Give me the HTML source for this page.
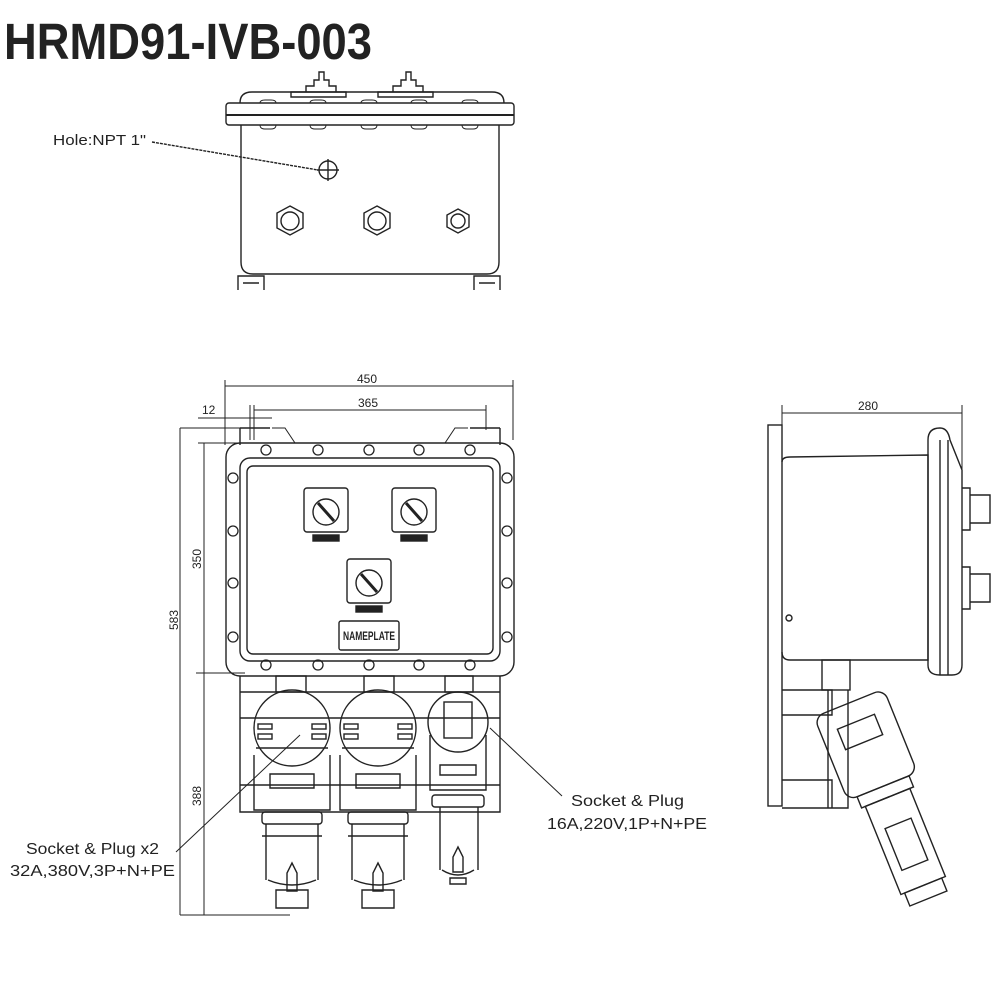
<!DOCTYPE html>
<html><head><meta charset="utf-8"><style>
html,body{margin:0;padding:0;background:#fff;width:1000px;height:1000px;overflow:hidden}
svg{display:block}
text{font-family:"Liberation Sans",sans-serif;fill:#222}
</style></head><body>
<svg width="1000" height="1000" viewBox="0 0 1000 1000" xmlns="http://www.w3.org/2000/svg">
<g fill="none" stroke="#222" stroke-width="1.4">
<text x="4" y="59" font-size="51" font-weight="bold" textLength="368" lengthAdjust="spacingAndGlyphs" stroke="none">HRMD91-IVB-003</text>

<!-- TOP VIEW -->
<text x="53" y="145" font-size="15" stroke="none" textLength="93" lengthAdjust="spacingAndGlyphs">Hole:NPT 1"</text>
<line x1="152" y1="142" x2="318" y2="170" stroke-dasharray="3,1"/>
<path d="M306 92 v-6 h8 v-6 h5 v-8 h5 v8 h5 v6 h7 v6 z M291 92 h55 v5 h-55z"/>
<path d="M393 92 v-6 h8 v-6 h5 v-8 h5 v8 h5 v6 h7 v6 z M378 92 h55 v5 h-55z"/>
<path d="M240 103 q0-11 12-11 h240 q12 0 12 11"/>
<rect x="226" y="103" width="288" height="22" rx="3"/>
<line x1="226" y1="115" x2="514" y2="115" stroke-width="2"/>
<g stroke-width="1">
<path d="M260 103 q0-3 5-3 h6 q5 0 5 3 M310 103 q0-3 5-3 h6 q5 0 5 3 M361 103 q0-3 5-3 h6 q5 0 5 3 M411 103 q0-3 5-3 h6 q5 0 5 3 M462 103 q0-3 5-3 h6 q5 0 5 3"/>
<path d="M260 125 q0 4 5 4 h6 q5 0 5-4 M310 125 q0 4 5 4 h6 q5 0 5-4 M361 125 q0 4 5 4 h6 q5 0 5-4 M411 125 q0 4 5 4 h6 q5 0 5-4 M462 125 q0 4 5 4 h6 q5 0 5-4"/>
</g>
<path d="M241 125 V262 q0 12 12 12 h234 q12 0 12-12 V125"/>
<path d="M238 290 v-14 h26 v14 M243 283 h16 M474 290 v-14 h26 v14 M479 283 h16"/>
<circle cx="328" cy="170" r="9"/><path d="M317 170 h22 M328 159 v22"/>
<polygon points="290,206 303,213 303,228 290,235 277,228 277,213"/><circle cx="290" cy="221" r="9"/>
<polygon points="377,206 390,213 390,228 377,235 364,228 364,213"/><circle cx="377" cy="221" r="9"/>
<polygon points="458,209 469,215 469,227 458,233 447,227 447,215"/><circle cx="458" cy="221" r="7"/>

<!-- FRONT VIEW dims -->
<text x="357" y="383" font-size="12" stroke="none">450</text>
<path d="M225 386 H513 M225 380 V445 M513 380 V440" stroke-width="1"/>
<text x="358" y="407" font-size="12" stroke="none">365</text>
<path d="M254 410 H486 M486 405 V430 M254 405 V440 M250 405 V440" stroke-width="1"/>
<text x="202" y="414" font-size="12" stroke="none">12</text>
<path d="M198 418 H272 M198 443 H240" stroke-width="1"/>
<path d="M180 428 H240 M180 428 V915 M180 915 H290 M204 443 V915 M196 673 H245" stroke-width="1"/>
<text transform="translate(201,569) rotate(-90)" font-size="12" stroke="none">350</text>
<text transform="translate(178,630) rotate(-90)" font-size="12" stroke="none">583</text>
<text transform="translate(201,806) rotate(-90)" font-size="12" stroke="none">388</text>

<!-- enclosure -->
<path d="M240 428 V445 M500 428 V445 M240 428 h30 M470 428 h30"/>
<path d="M272 428 h13 l10 15 h150 l10-15 h13" stroke-width="1"/>
<rect x="226" y="443" width="288" height="233" rx="14"/>
<rect x="240" y="458" width="260" height="203" rx="10"/>
<rect x="247" y="466" width="246" height="188" rx="6"/>
<g stroke-width="1.3">
<circle cx="266" cy="450" r="5"/><circle cx="318" cy="450" r="5"/><circle cx="369" cy="450" r="5"/><circle cx="419" cy="450" r="5"/><circle cx="470" cy="450" r="5"/>
<circle cx="266" cy="665" r="5"/><circle cx="318" cy="665" r="5"/><circle cx="369" cy="665" r="5"/><circle cx="419" cy="665" r="5"/><circle cx="470" cy="665" r="5"/>
<circle cx="233" cy="478" r="5"/><circle cx="233" cy="531" r="5"/><circle cx="233" cy="583" r="5"/><circle cx="233" cy="637" r="5"/>
<circle cx="507" cy="478" r="5"/><circle cx="507" cy="531" r="5"/><circle cx="507" cy="583" r="5"/><circle cx="507" cy="637" r="5"/>
</g>
<g>
<rect x="304" y="488" width="44" height="44" rx="3"/><circle cx="326" cy="512" r="13"/><line x1="318" y1="503" x2="334" y2="521" stroke-width="3"/><rect x="313" y="535" width="26" height="6" fill="#222"/>
<rect x="392" y="488" width="44" height="44" rx="3"/><circle cx="414" cy="512" r="13"/><line x1="406" y1="503" x2="422" y2="521" stroke-width="3"/><rect x="401" y="535" width="26" height="6" fill="#222"/>
<rect x="347" y="559" width="44" height="44" rx="3"/><circle cx="369" cy="583" r="13"/><line x1="361" y1="574" x2="377" y2="592" stroke-width="3"/><rect x="356" y="606" width="26" height="6" fill="#222"/>
<rect x="339" y="621" width="60" height="29" rx="2"/>
<text x="343" y="640" font-size="12" font-weight="bold" stroke="none" textLength="52" lengthAdjust="spacingAndGlyphs">NAMEPLATE</text>
</g>
<!-- back plate -->
<path d="M240 676 V812 H500 V676 M240 692 H500 M240 718 H500 M240 785 H500"/>
<!-- glands -->
<rect x="276" y="676" width="30" height="16"/><rect x="364" y="676" width="30" height="16"/><rect x="445" y="676" width="28" height="16"/>
<!-- big sockets -->
<g id="s1">
<circle cx="292" cy="728" r="38"/>
<path d="M254 755 V810 H330 V755"/>
<rect x="258" y="724" width="14" height="5"/><rect x="258" y="734" width="14" height="5"/><rect x="312" y="724" width="14" height="5"/><rect x="312" y="734" width="14" height="5"/>
<path d="M256 748 H328 M270 788 h44 v-14 h-44z"/>
<rect x="262" y="812" width="60" height="12" rx="3"/>
<path d="M266 824 V880 M318 824 V880 M262 836 h60 M268 880 q24 10 48 0 M276 890 h32 v18 h-32z"/>
<path d="M292 863 l-5 10 v18 h10 v-18 z"/>
</g>
<use href="#s1" x="86"/>
<!-- small socket -->
<circle cx="458" cy="722" r="30"/>
<rect x="444" y="702" width="28" height="36"/>
<path d="M430 735 V790 H486 V735 M440 775 h36 v-10 h-36z"/>
<rect x="432" y="795" width="52" height="12" rx="3"/>
<path d="M440 807 V870 M478 807 V870 M442 870 q16 10 32 0 M450 878 h16 v6 h-16z M458 847 l-5 10 v15 h10 v-15z"/>

<!-- labels -->
<line x1="300" y1="735" x2="176" y2="852" stroke-width="1"/>
<text x="26" y="854" font-size="16" stroke="none" textLength="133" lengthAdjust="spacingAndGlyphs">Socket &amp; Plug x2</text>
<text x="10" y="876" font-size="16" stroke="none" textLength="165" lengthAdjust="spacingAndGlyphs">32A,380V,3P+N+PE</text>
<line x1="490" y1="728" x2="562" y2="796" stroke-width="1"/>
<text x="571" y="806" font-size="16" stroke="none" textLength="113" lengthAdjust="spacingAndGlyphs">Socket &amp; Plug</text>
<text x="547" y="829" font-size="16" stroke="none" textLength="160" lengthAdjust="spacingAndGlyphs">16A,220V,1P+N+PE</text>

<!-- SIDE VIEW -->
<text x="858" y="410" font-size="12" stroke="none">280</text>
<path d="M782 413 H962 M782 405 V460 M962 405 V470" stroke-width="1"/>
<rect x="768" y="425" width="14" height="381"/>
<path d="M782 462 q0-5 8-5 L928 455 V660 H790 q-8 0-8-8"/>
<path d="M928 440 q0-12 12-12 q8 0 10 12 L962 470 V665 q0 10-10 10 H940 q-12 0-12-10 z M940 440 V675 M948 440 V675"/>
<path d="M962 488 h8 v42 h-8 M970 495 h20 v28 h-20 M962 567 h8 v42 h-8 M970 574 h20 v28 h-20"/>
<circle cx="789" cy="618" r="3"/>
<rect x="822" y="660" width="28" height="30"/>
<path d="M782 690 H832 V715 H782 M782 780 H832 V808 H782 M828 690 V808 H848 V690"/>
<g transform="rotate(-22 870 770)">
<rect x="838" y="700" width="75" height="90" rx="10"/>
<rect x="855" y="720" width="40" height="22"/>
<rect x="848" y="790" width="56" height="12"/>
<rect x="852" y="802" width="48" height="95"/>
<rect x="862" y="830" width="28" height="45"/>
<rect x="856" y="897" width="40" height="14"/>
</g>
</g>
</svg>
</body></html>
